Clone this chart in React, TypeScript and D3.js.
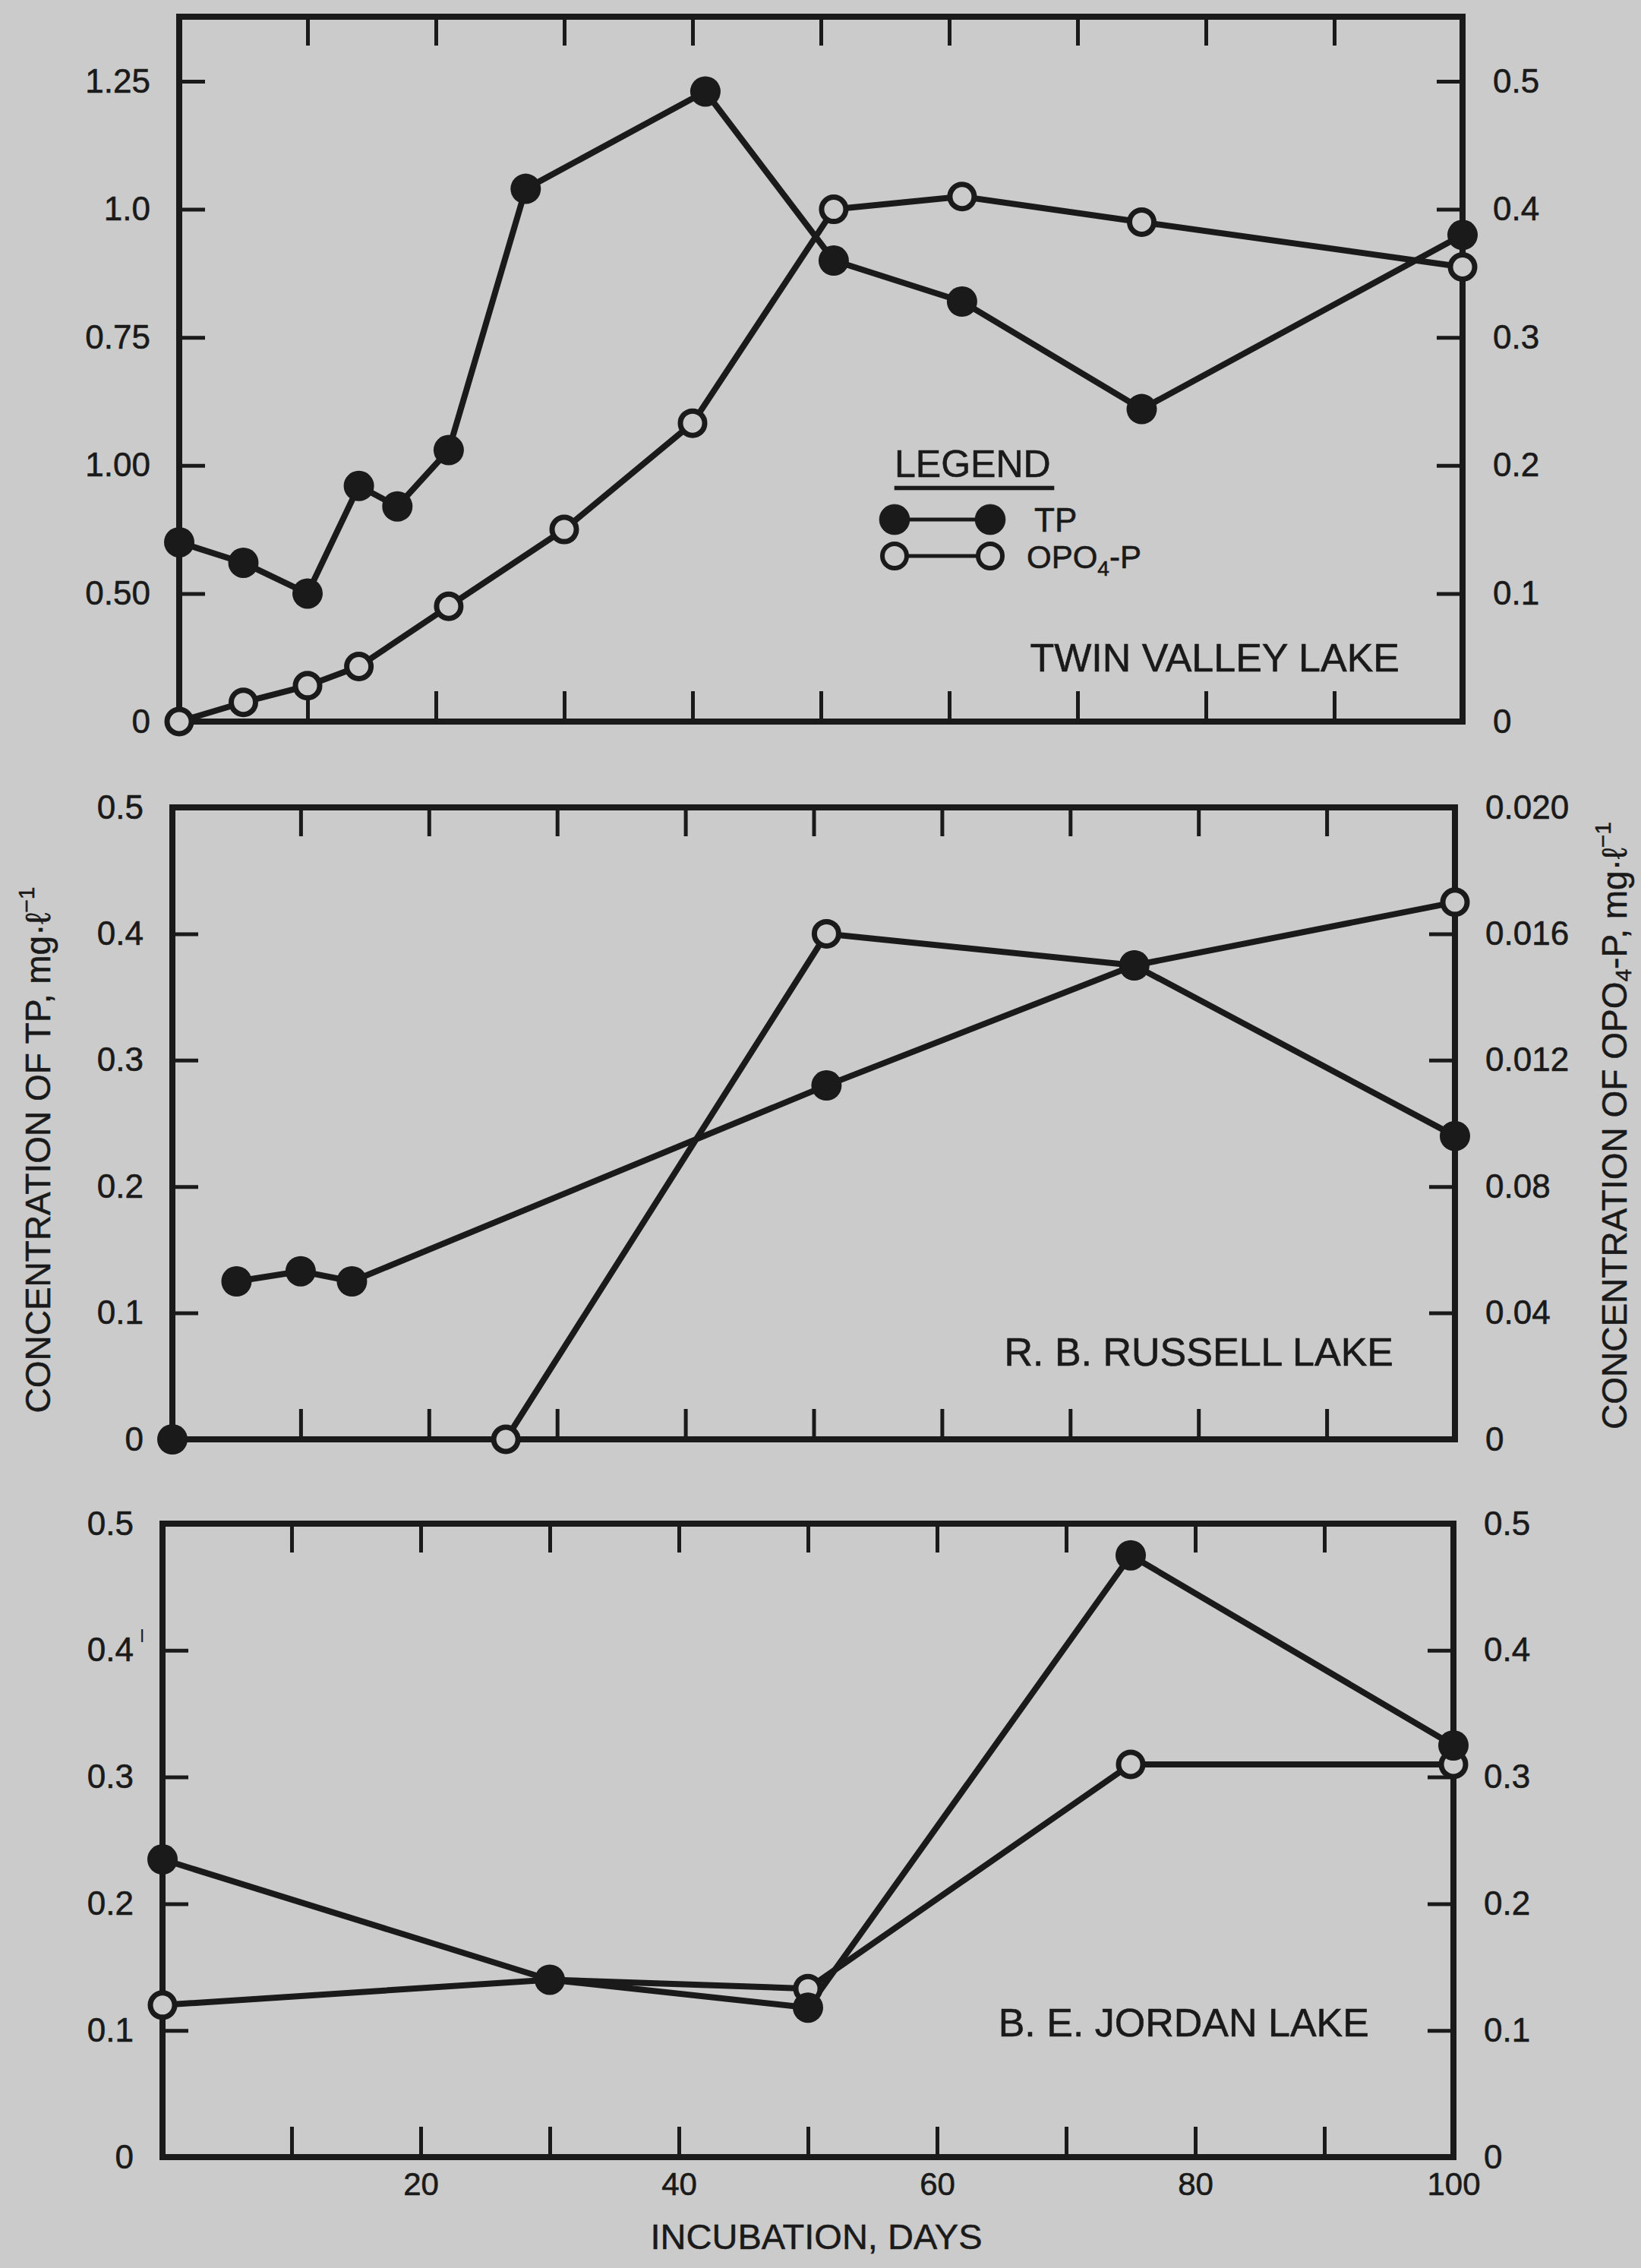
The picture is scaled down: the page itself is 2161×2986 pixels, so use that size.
import React, { useEffect, useRef } from 'react';
import * as d3 from 'd3';

const W = 2161;
const H = 2986;

const ink = '#1a1a1a';
const paper = '#cbcbcb';
const font = '"Liberation Sans", Arial, Helvetica, sans-serif';

// incubation days, ticks every 10, labels on the bottom panel only
const dayTicks = [10, 20, 30, 40, 50, 60, 70, 80, 90];
const dayLabels = [20, 40, 60, 80, 100];

// Twin Valley Lake
const twinTpDays = [0, 5, 10, 14, 17, 21, 27, 41, 51, 61, 75, 100];
const twinTpVals = [0.35, 0.31, 0.25, 0.46, 0.42, 0.53, 1.04, 1.23, 0.9, 0.82, 0.61, 0.95];
const twinPoDays = [0, 5, 10, 14, 21, 30, 40, 51, 61, 75, 100];
const twinPoVals = [0, 0.015, 0.028, 0.043, 0.09, 0.15, 0.233, 0.4, 0.41, 0.39, 0.355];
const twinLeftTicks = [0, 0.25, 0.5, 0.75, 1.0, 1.25];
const twinLeftLabels = ['0', '0.50', '1.00', '0.75', '1.0', '1.25'];
const twinRightTicks = [0, 0.1, 0.2, 0.3, 0.4, 0.5];
const twinRightLabels = ['0', '0.1', '0.2', '0.3', '0.4', '0.5'];

// R. B. Russell Lake
const russTpDays = [0, 5, 10, 14, 51, 75, 100];
const russTpVals = [0, 0.125, 0.133, 0.125, 0.28, 0.375, 0.24];
const russPoDays = [26, 51, 75, 100];
const russPoVals = [0, 0.016, 0.015, 0.017];
const russLeftTicks = [0, 0.1, 0.2, 0.3, 0.4, 0.5];
const russLeftLabels = ['0', '0.1', '0.2', '0.3', '0.4', '0.5'];
const russRightTicks = [0, 0.004, 0.008, 0.012, 0.016, 0.02];
const russRightLabels = ['0', '0.04', '0.08', '0.012', '0.016', '0.020'];

// B. E. Jordan Lake
const jordTpDays = [0, 30, 50, 75, 100];
const jordTpVals = [0.235, 0.14, 0.118, 0.475, 0.325];
const jordPoDays = [0, 30, 50, 75, 100];
const jordPoVals = [0.12, 0.14, 0.133, 0.31, 0.31];
const jordLeftTicks = [0, 0.1, 0.2, 0.3, 0.4, 0.5];
const jordLeftLabels = ['0', '0.1', '0.2', '0.3', '0.4', '0.5'];
const jordRightTicks = [0, 0.1, 0.2, 0.3, 0.4, 0.5];
const jordRightLabels = ['0', '0.1', '0.2', '0.3', '0.4', '0.5'];

const zip = (a: number[], b: number[]) => a.map((d, i) => [d, b[i]] as [number, number]);

const App = () => {
  const svgRef = useRef<SVGSVGElement>(null);

  useEffect(() => {
    document.body.style.margin = '0';
    const svg = d3.select(svgRef.current);
    svg.selectAll('*').remove();

    svg.append('rect').attr('width', W).attr('height', H).attr('fill', paper);

    const panels = [
      {
        name: 'TWIN VALLEY LAKE', nameX: 1843, nameY: 884,
        left: 236, right: 1926, top: 22, bottom: 950, topTick: 107,
        leftMax: 1.25, rightMax: 0.5,
        tp: zip(twinTpDays, twinTpVals), po: zip(twinPoDays, twinPoVals),
        lt: twinLeftTicks, ll: twinLeftLabels, rt: twinRightTicks, rl: twinRightLabels,
        tpBreak: -1,
      },
      {
        name: 'R. B. RUSSELL LAKE', nameX: 1835, nameY: 1798,
        left: 227, right: 1916, top: 1063, bottom: 1895, topTick: 1063,
        leftMax: 0.5, rightMax: 0.02,
        tp: zip(russTpDays, russTpVals), po: zip(russPoDays, russPoVals),
        lt: russLeftTicks, ll: russLeftLabels, rt: russRightTicks, rl: russRightLabels,
        tpBreak: 1,
      },
      {
        name: 'B. E. JORDAN LAKE', nameX: 1803, nameY: 2681,
        left: 214, right: 1914, top: 2006, bottom: 2840, topTick: 2006,
        leftMax: 0.5, rightMax: 0.5,
        tp: zip(jordTpDays, jordTpVals), po: zip(jordPoDays, jordPoVals),
        lt: jordLeftTicks, ll: jordLeftLabels, rt: jordRightTicks, rl: jordRightLabels,
        tpBreak: -1,
      },
    ];

    panels.forEach((p, pi) => {
      const g = svg.append('g');
      const x = d3.scaleLinear().domain([0, 100]).range([p.left, p.right]);
      const yL = d3.scaleLinear().domain([0, p.leftMax]).range([p.bottom, p.topTick]);
      const yR = d3.scaleLinear().domain([0, p.rightMax]).range([p.bottom, p.topTick]);

      const styleAxis = (a: any) => {
        a.select('.domain').remove();
        a.attr('font-family', font).attr('font-size', 44).attr('color', ink);
        a.selectAll('line').attr('stroke-width', 5);
        a.selectAll('text').attr('fill', ink).attr('stroke', ink).attr('stroke-width', 0.6);
      };

      // inward day ticks on top and bottom
      g.append('g')
        .attr('transform', `translate(0, ${p.bottom})`)
        .call(d3.axisBottom(x).tickValues(dayTicks).tickSize(-40).tickFormat(() => ''))
        .call(styleAxis);
      g.append('g')
        .attr('transform', `translate(0, ${p.top})`)
        .call(d3.axisTop(x).tickValues(dayTicks).tickSize(-38).tickFormat(() => ''))
        .call(styleAxis);

      if (pi === 2) {
        g.append('g')
          .attr('transform', `translate(0, ${p.bottom})`)
          .call(d3.axisBottom(x).tickValues(dayLabels).tickSize(0).tickPadding(20).tickFormat(d => String(d)))
          .call(styleAxis)
          .attr('font-size', 42);
      }

      g.append('g')
        .attr('transform', `translate(${p.left}, 0)`)
        .call(d3.axisLeft(yL).tickValues(p.lt).tickSize(-34).tickPadding(38).tickFormat((d, i) => p.ll[i]))
        .call(styleAxis);
      g.append('g')
        .attr('transform', `translate(${p.right}, 0)`)
        .call(d3.axisRight(yR).tickValues(p.rt).tickSize(-34).tickPadding(40).tickFormat((d, i) => p.rl[i]))
        .call(styleAxis);

      // frame
      g.append('rect')
        .attr('x', p.left).attr('y', p.top)
        .attr('width', p.right - p.left).attr('height', p.bottom - p.top)
        .attr('fill', 'none').attr('stroke', ink).attr('stroke-width', 8);

      const lineL = d3.line<[number, number]>().x(d => x(d[0])).y(d => yL(d[1]));
      const lineR = d3.line<[number, number]>().x(d => x(d[0])).y(d => yR(d[1]));

      const tpLine = p.tpBreak > 0 ? p.tp.slice(p.tpBreak) : p.tp;
      g.append('path').datum(tpLine).attr('d', lineL)
        .attr('fill', 'none').attr('stroke', ink).attr('stroke-width', 8).attr('stroke-linejoin', 'round');
      g.append('path').datum(p.po).attr('d', lineR)
        .attr('fill', 'none').attr('stroke', ink).attr('stroke-width', 8).attr('stroke-linejoin', 'round');

      g.selectAll('.po').data(p.po).enter().append('circle')
        .attr('cx', d => x(d[0])).attr('cy', d => yR(d[1])).attr('r', 16)
        .attr('fill', paper).attr('stroke', ink).attr('stroke-width', 7);
      g.selectAll('.tp').data(p.tp).enter().append('circle')
        .attr('cx', d => x(d[0])).attr('cy', d => yL(d[1])).attr('r', 20)
        .attr('fill', ink);

      g.append('text')
        .attr('x', p.nameX).attr('y', p.nameY)
        .attr('text-anchor', 'end')
        .attr('font-family', font).attr('font-size', 52)
        .attr('fill', ink).attr('stroke', ink).attr('stroke-width', 0.6)
        .text(p.name);
    });

    // stray mark after 0.4 on the bottom panel, as printed
    svg.append('text')
      .attr('x', 184).attr('y', 2162)
      .attr('font-family', font).attr('font-size', 24).attr('fill', ink)
      .text('ǀ');

    // legend
    const lg = svg.append('g').attr('font-family', font).attr('fill', ink)
      .attr('stroke', ink).attr('stroke-width', 0.6);
    lg.append('text').attr('x', 1178).attr('y', 628).attr('font-size', 50).text('LEGEND');
    lg.append('rect').attr('x', 1178).attr('y', 640).attr('width', 210).attr('height', 5).attr('fill', ink);
    lg.append('line').attr('x1', 1178).attr('x2', 1304).attr('y1', 684).attr('y2', 684)
      .attr('stroke', ink).attr('stroke-width', 5);
    [1178, 1304].forEach(cx => lg.append('circle').attr('cx', cx).attr('cy', 684).attr('r', 20).attr('fill', ink));
    lg.append('text').attr('x', 1362).attr('y', 700).attr('font-size', 44).text('TP');
    lg.append('line').attr('x1', 1178).attr('x2', 1304).attr('y1', 732).attr('y2', 732)
      .attr('stroke', ink).attr('stroke-width', 5);
    [1178, 1304].forEach(cx => lg.append('circle').attr('cx', cx).attr('cy', 732).attr('r', 16)
      .attr('fill', paper).attr('stroke', ink).attr('stroke-width', 6));
    const po = lg.append('text').attr('x', 1352).attr('y', 748).attr('font-size', 42);
    po.append('tspan').text('OPO');
    po.append('tspan').attr('font-size', 28).attr('dy', 10).text('4');
    po.append('tspan').attr('dy', -10).text('-P');

    // axis titles
    const lt = svg.append('text')
      .attr('transform', 'translate(50, 1514) rotate(-90)')
      .attr('text-anchor', 'middle').attr('dominant-baseline', 'central')
      .attr('font-family', font).attr('font-size', 46).attr('fill', ink)
      .attr('stroke', ink).attr('stroke-width', 0.5);
    lt.append('tspan').text('CONCENTRATION OF TP,  mg·ℓ');
    lt.append('tspan').attr('font-size', 30).attr('dy', -16).text('−1');

    const rt = svg.append('text')
      .attr('transform', 'translate(2126, 1482) rotate(-90)')
      .attr('text-anchor', 'middle').attr('dominant-baseline', 'central')
      .attr('font-family', font).attr('font-size', 46).attr('fill', ink)
      .attr('stroke', ink).attr('stroke-width', 0.5);
    rt.append('tspan').text('CONCENTRATION OF OPO');
    rt.append('tspan').attr('font-size', 30).attr('dy', 11).text('4');
    rt.append('tspan').attr('dy', -11).text('-P,   mg·ℓ');
    rt.append('tspan').attr('font-size', 30).attr('dy', -16).text('−1');

    svg.append('text')
      .attr('x', 1075).attr('y', 2961)
      .attr('text-anchor', 'middle')
      .attr('font-family', font).attr('font-size', 47)
      .attr('fill', ink).attr('stroke', ink).attr('stroke-width', 0.5)
      .text('INCUBATION,  DAYS');
  }, []);

  return (
    <div style={{ position: 'absolute', left: 0, top: 0 }}>
      <svg ref={svgRef} width={W} height={H} style={{ display: 'block' }}></svg>
    </div>
  );
};

export default App;
